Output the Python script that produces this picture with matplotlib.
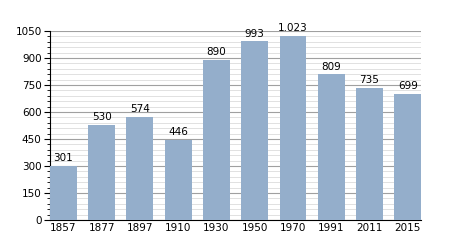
import matplotlib.pyplot as plt
import numpy as np
from matplotlib.ticker import MultipleLocator

years = ['1857', '1877', '1897', '1910', '1930', '1950', '1970', '1991', '2011', '2015']
population = [301, 530, 574, 446, 890, 993, 1023, 809, 735, 699]
labels = ['301', '530', '574', '446', '890', '993', '1.023', '809', '735', '699']

fig = plt.figure(figsize=(4.5, 2.5), dpi=100)
ax = fig.add_axes([0.111, 0.12, 0.825, 0.756])

x = np.arange(len(years))
ax.bar(x, population, width=0.7, color='#94aecb', zorder=3)
for xi, v, t in zip(x, population, labels):
    ax.text(xi, v + 15, t, ha='center', va='bottom', fontsize=7.5)

ax.set_xlim(-0.35, len(years) - 0.65)
ax.set_ylim(0, 1050)
ax.yaxis.set_major_locator(MultipleLocator(150))
ax.yaxis.set_minor_locator(MultipleLocator(30))
ax.grid(axis='y', which='major', color='#a0a0a0', linewidth=0.8, zorder=0)
ax.grid(axis='y', which='minor', color='#dcdcdc', linewidth=0.6, zorder=0)

ax.set_xticks(x)
ax.set_xticklabels(years)
ax.tick_params(axis='x', length=0, labelsize=7.5, pad=2)
ax.tick_params(axis='y', which='major', length=4, labelsize=7.5, pad=2)
ax.tick_params(axis='y', which='minor', length=2)

for s in ['top', 'right']:
    ax.spines[s].set_visible(False)
ax.spines['left'].set_linewidth(0.8)
ax.spines['bottom'].set_linewidth(0.8)

fig.savefig('out.png', dpi=100)
